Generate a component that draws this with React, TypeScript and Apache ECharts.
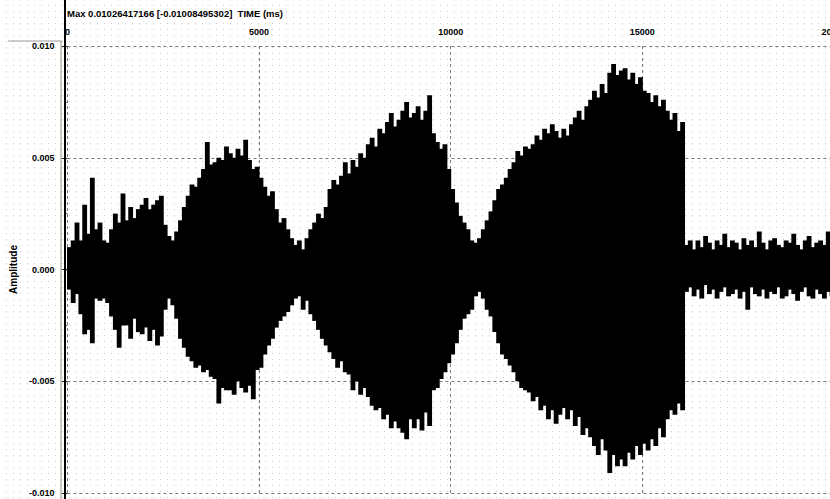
import React, { useEffect, useRef } from "react";
import * as echarts from "echarts";

// Waveform envelope: one min/max pair per 100 ms bin, amplitudes in units of 1e-3.
const BIN_MS = 100;
const AMP_UNIT = 1e-3;

const upperPeak = [
  1.0, 1.3, 2.1, 1.3, 2.9, 1.6, 4.1, 1.8, 2.1, 1.3,
  1.2, 1.8, 2.5, 2.1, 3.4, 2.2, 2.8, 2.3, 2.7, 2.9,
  3.2, 2.7, 2.9, 3.1, 3.3, 2.0, 1.5, 1.3, 1.7, 2.2,
  2.8, 3.3, 3.8, 3.7, 4.1, 4.5, 5.7, 4.7, 4.8, 5.0,
  4.9, 5.5, 5.2, 5.0, 5.4, 5.1, 5.8, 4.9, 4.5, 4.6,
  4.1, 3.7, 3.3, 3.5, 2.7, 2.1, 2.3, 1.8, 1.4, 1.1,
  1.3, 0.9, 1.4, 1.8, 2.1, 2.5, 2.3, 2.8, 3.6, 4.0,
  3.8, 4.2, 4.8, 4.3, 4.9, 4.6, 5.2, 5.0, 5.6, 5.9,
  5.5, 6.3, 6.1, 6.6, 7.0, 6.4, 6.7, 7.1, 7.5, 6.8,
  7.0, 7.3, 6.7, 7.1, 7.8, 6.1, 5.7, 5.4, 5.6, 4.5,
  3.6, 3.0, 2.4, 2.1, 1.8, 1.3, 1.2, 1.4, 1.8, 2.2,
  2.6, 3.1, 3.6, 3.8, 4.1, 4.5, 4.8, 5.3, 5.1, 5.5,
  5.4, 5.6, 6.0, 5.8, 6.3, 6.1, 6.5, 6.2, 5.9, 6.3,
  6.0, 6.5, 6.8, 7.1, 6.7, 7.3, 7.6, 8.0, 7.7, 8.3,
  7.9, 8.8, 9.2, 8.7, 8.9, 9.0, 8.5, 8.8, 8.3, 8.6,
  8.0, 7.9, 7.5, 7.8, 7.3, 7.6, 7.1, 6.7, 7.0, 6.2,
  6.6,
  1.1, 1.3, 0.9, 1.3, 1.0, 1.5, 1.2, 0.9, 1.3, 1.1,
  1.6, 1.0, 1.3, 1.2, 0.9, 1.4, 1.1, 1.3, 1.0, 1.7,
  1.2, 0.9, 1.3, 1.4, 1.1, 1.0, 1.3, 1.2, 1.6, 1.1,
  0.9, 1.3, 1.5, 1.0, 1.2, 1.3, 1.1, 1.7, 1.3,
];

const lowerPeak = [
  0.9, 1.5, 1.1, 2.0, 2.9, 2.7, 3.3, 1.3, 1.4, 1.3,
  1.5, 2.1, 2.7, 3.5, 2.5, 2.5, 3.1, 2.2, 2.8, 2.9,
  2.6, 3.2, 2.7, 3.4, 3.0, 1.8, 1.3, 1.6, 2.2, 3.1,
  3.5, 3.9, 4.1, 4.4, 4.3, 4.6, 4.5, 4.8, 4.9, 6.0,
  5.3, 5.4, 5.4, 5.6, 5.0, 5.3, 5.5, 5.2, 5.8, 4.5,
  4.4, 3.8, 3.4, 3.1, 2.6, 2.3, 2.1, 1.9, 1.6, 1.3,
  1.2, 1.8, 1.4, 2.0, 2.3, 2.7, 3.1, 3.4, 3.7, 4.0,
  4.4, 4.1, 4.6, 4.7, 5.4, 5.0, 5.6, 5.3, 5.7, 6.1,
  6.3, 6.2, 6.7, 6.5, 7.1, 6.8, 7.1, 7.3, 7.6, 6.7,
  7.1, 6.7, 7.2, 6.4, 7.0, 5.4, 5.3, 4.9, 4.6, 4.2,
  3.8, 3.3, 2.7, 2.2, 2.0, 1.8, 1.2, 1.0, 1.3, 1.8,
  2.1, 2.8, 3.3, 3.8, 4.0, 4.3, 4.6, 5.0, 5.3, 5.4,
  5.5, 5.9, 5.7, 6.3, 6.1, 6.7, 6.3, 6.9, 6.5, 6.2,
  6.7, 6.3, 7.0, 6.6, 7.4, 7.1, 7.5, 7.9, 8.3, 7.6,
  8.1, 9.1, 8.3, 8.8, 8.5, 8.8, 8.2, 8.5, 7.9, 8.3,
  7.8, 8.1, 7.6, 7.9, 7.1, 7.5, 6.7, 6.3, 6.5, 6.0,
  6.3,
  1.0, 0.8, 1.2, 0.9, 1.3, 0.7, 1.1, 0.9, 1.3, 1.0,
  0.8, 1.2, 1.1, 0.9, 1.3, 1.0, 1.8, 0.8, 1.1, 1.2,
  0.9, 1.3, 1.0, 1.1, 0.8, 1.3, 1.2, 0.9, 1.1, 1.4,
  1.0, 0.8, 1.2, 1.3, 0.9, 1.1, 1.3, 1.0, 1.2,
];

const TIME_TICKS = [0, 5000, 10000, 15000, 20000];
const AMP_TICKS = [-0.01, -0.005, 0, 0.005, 0.01];
const TITLE = "Max 0.01026417166 [-0.01008495302]  TIME (ms)";
const Y_NAME = "Amplitude";

const FONT = "'Liberation Sans', Arial, sans-serif";

export default function App() {
  const ref = useRef<HTMLDivElement>(null);

  useEffect(() => {
    if (!ref.current) return;
    const chart = echarts.init(ref.current, undefined, { renderer: "svg" });

    const bins = upperPeak.map((hi, k) => [
      k * BIN_MS,
      hi * AMP_UNIT,
      -lowerPeak[k] * AMP_UNIT,
    ]);

    const tMin = TIME_TICKS[0];
    const tMax = TIME_TICKS[TIME_TICKS.length - 1];
    const tStep = TIME_TICKS[1] - TIME_TICKS[0];
    const aMin = AMP_TICKS[0];
    const aMax = AMP_TICKS[AMP_TICKS.length - 1];
    const aStep = AMP_TICKS[1] - AMP_TICKS[0];

    chart.setOption({
      animation: false,
      backgroundColor: "transparent",
      grid: { left: 65, right: 16, top: 46, bottom: 6, containLabel: false },
      xAxis: {
        type: "value",
        position: "top",
        offset: 5,
        min: tMin,
        max: tMax,
        interval: tStep,
        axisLine: { show: true, lineStyle: { color: "#3a3a3a", width: 2 } },
        axisTick: { show: true, length: 4, lineStyle: { color: "#3a3a3a" } },
        minorTick: { show: true, splitNumber: 10, length: 3, lineStyle: { color: "#555" } },
        axisLabel: {
          fontSize: 9,
          fontWeight: "bold",
          fontFamily: FONT,
          color: "#000",
          margin: 5,
          formatter: (v: number) => String(v),
        },
        splitLine: { show: true, lineStyle: { color: "#7a7a7a", type: [3, 3], width: 1 } },
      },
      yAxis: {
        type: "value",
        min: aMin,
        max: aMax,
        interval: aStep,
        name: Y_NAME,
        nameLocation: "middle",
        nameGap: 48,
        nameTextStyle: { fontSize: 10, fontWeight: "bold", fontFamily: FONT, color: "#000" },
        axisLine: { show: false },
        axisTick: { show: true, length: 6, lineStyle: { color: "#222" } },
        minorTick: { show: true, splitNumber: 2, length: 3, lineStyle: { color: "#666" } },
        axisLabel: {
          fontSize: 9,
          fontWeight: "bold",
          fontFamily: FONT,
          color: "#000",
          margin: 13,
          formatter: (v: number) => v.toFixed(3),
        },
        splitLine: { show: true, lineStyle: { color: "#7a7a7a", type: [3, 3], width: 1 } },
      },
      graphic: [
        {
          type: "line",
          shape: { x1: 8, y1: 41, x2: 62, y2: 41 },
          style: { stroke: "#9a9a9a", lineWidth: 1 },
          z: 10,
        },
        {
          type: "line",
          shape: { x1: 61, y1: 41, x2: 61, y2: 499 },
          style: { stroke: "#b9b9a9", lineWidth: 1.5 },
          z: 10,
        },
        {
          type: "line",
          shape: { x1: 65, y1: 0, x2: 65, y2: 499 },
          style: { stroke: "#000", lineWidth: 2 },
          z: 10,
        },
        {
          type: "text",
          x: 67,
          y: 8,
          style: {
            text: TITLE,
            font: `bold 9.5px ${FONT}`,
            fill: "#000",
          },
          z: 10,
        },
      ],
      series: [
        {
          type: "custom",
          clip: true,
          data: bins,
          encode: { x: 0, y: [1, 2] },
          renderItem: (_params: any, api: any) => {
            const t = api.value(0);
            const hi = api.value(1);
            const lo = api.value(2);
            const p1 = api.coord([t, hi]);
            const p2 = api.coord([t + BIN_MS, lo]);
            // slight overlap so neighbouring bins join without seams
            return {
              type: "rect",
              shape: {
                x: p1[0] - 0.5,
                y: p1[1],
                width: p2[0] - p1[0] + 1,
                height: p2[1] - p1[1],
              },
              style: { fill: "#000", stroke: null },
            };
          },
        },
      ],
    });

    return () => chart.dispose();
  }, []);

  return (
    <div
      style={{
        position: "fixed",
        left: 0,
        top: 0,
        width: 830,
        height: 499,
        overflow: "hidden",
        backgroundColor: "#fff",
        backgroundImage:
          "linear-gradient(to right, #fff 6px, transparent 6px), linear-gradient(to bottom, transparent 5px, #cdcdcd 5px)",
        backgroundSize: "7px 6px, 7px 6px",
      }}
    >
      <div ref={ref} style={{ width: 850, height: 499 }} />
    </div>
  );
}
